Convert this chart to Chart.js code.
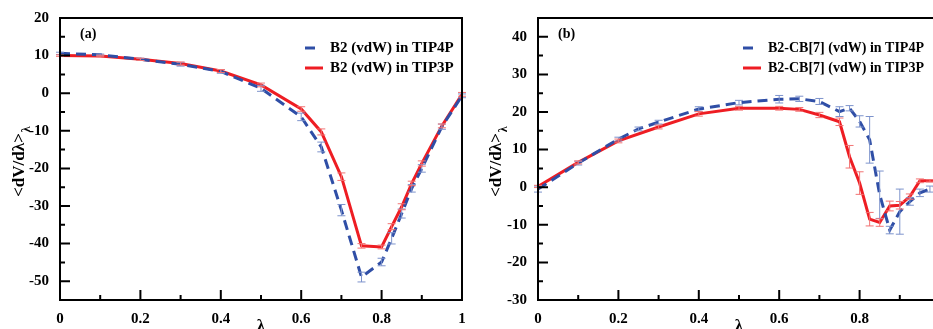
<!DOCTYPE html>
<html>
<head>
<meta charset="utf-8">
<script src="https://cdn.jsdelivr.net/npm/chart.js@4.4.1/dist/chart.umd.min.js"></script>
<style>
    html, body { margin: 0; padding: 0; background: #fff; overflow: hidden; }
    #wrap { position: relative; width: 933px; height: 329px; overflow: hidden; }
    canvas { position: absolute; top: 0; }
</style>
</head>
<body>
<div id="wrap">
    <canvas id="chartA" width="470" height="329" style="left:0"></canvas>
    <canvas id="chartB" width="478" height="329" style="left:470px"></canvas>
</div>
<script>
// panel (a): B2 (vdW)
const lamA = [0, 0.1, 0.2, 0.3, 0.4, 0.5, 0.6, 0.65, 0.7, 0.75, 0.8, 0.825, 0.85, 0.875, 0.9, 0.95, 1.0];
const a_tip4p = [10.6, 10.2, 9.0, 7.7, 5.8, 1.3, -6.3, -14.3, -31.1, -48.9, -44.9, -38.6, -32.0, -25.3, -20.0, -8.9, -0.7];
const a_tip4pErr = [0.3, 0.2, 0.3, 0.5, 0.5, 0.8, 1.0, 1.3, 1.5, 1.3, 1.0, 1.5, 1.2, 1.0, 1.0, 0.7, 0.5];
const a_tip3p = [10.0, 9.9, 9.0, 7.9, 5.9, 2.2, -4.2, -10.3, -22.2, -40.6, -40.9, -35.5, -30.2, -24.0, -18.7, -8.7, -0.3];
const a_tip3pErr = [0.2, 0.2, 0.3, 0.4, 0.4, 0.5, 0.6, 0.8, 1.0, 0.6, 0.5, 0.8, 0.8, 0.6, 0.7, 0.5, 0.5];

// panel (b): B2-CB[7] (vdW)
const lamB4 = [0, 0.1, 0.2, 0.25, 0.3, 0.4, 0.5, 0.6, 0.65, 0.7, 0.75, 0.775, 0.8, 0.825, 0.85, 0.875, 0.9, 0.925, 0.95, 0.975, 1.0];
const b_tip4p = [-0.5, 6.4, 12.8, 15.5, 17.3, 20.8, 22.5, 23.4, 23.5, 22.8, 20.1, 21.0, 17.5, 12.6, -2.0, -11.4, -6.5, -3.8, -1.5, -0.5, 0.5];
const b_tip4pErr = [0.8, 0.5, 0.5, 0.5, 0.5, 0.6, 0.6, 1.0, 0.7, 0.8, 1.3, 0.7, 1.5, 6.2, 6.3, 1.0, 6.0, 1.0, 1.0, 0.8, 0.8];
const lamB3 = [0, 0.1, 0.2, 0.3, 0.4, 0.5, 0.6, 0.65, 0.7, 0.75, 0.775, 0.8, 0.825, 0.85, 0.875, 0.9, 0.925, 0.95, 0.975, 1.0];
const b_tip3p = [0.2, 6.6, 12.3, 16.0, 19.5, 21.0, 21.0, 20.7, 19.2, 17.4, 8.1, 1.1, -8.5, -9.4, -5.0, -4.8, -2.5, 1.7, 1.7, 1.7];
const b_tip3pErr = [0.3, 0.4, 0.5, 0.5, 0.6, 0.5, 0.5, 0.5, 0.7, 1.0, 3.0, 3.0, 1.8, 1.0, 1.3, 1.0, 0.7, 0.5, 0.3, 0.3];

const FONT = '"Liberation Serif", "Times New Roman", serif';
const BLUE = '#2f4ea6';
const RED = '#ee1d23';
const BLUE_ERR = '#7d93cc';
const RED_ERR = '#f27373';

function pts(xs, ys) {
    return xs.map((x, i) => ({ x: x, y: ys[i] }));
}

// error bars through the scales
const errorBars = {
    id: 'errorBars',
    afterDatasetsDraw(chart) {
        const { ctx, scales: { x, y } } = chart;
        ctx.save();
        ctx.lineWidth = 1;
        chart.data.datasets.forEach(ds => {
            ctx.strokeStyle = ds.errColor;
            ds.data.forEach((p, i) => {
                const e = ds.errors[i];
                if (!e) return;
                const px = x.getPixelForValue(p.x);
                const y1 = y.getPixelForValue(p.y - e);
                const y2 = y.getPixelForValue(p.y + e);
                ctx.beginPath();
                ctx.moveTo(px, y1); ctx.lineTo(px, y2);
                ctx.moveTo(px - 4, y1); ctx.lineTo(px + 4, y1);
                ctx.moveTo(px - 4, y2); ctx.lineTo(px + 4, y2);
                ctx.stroke();
            });
        });
        ctx.restore();
    }
};

// frame, inward ticks, titles, legend
const decor = {
    id: 'decor',
    afterDraw(chart, args, opts) {
        const { ctx, chartArea: a, scales: { x, y } } = chart;
        ctx.save();
        ctx.strokeStyle = '#000';
        ctx.lineWidth = 2;
        ctx.strokeRect(a.left, a.top, a.right - a.left, a.bottom - a.top);
        ctx.beginPath();
        x.ticks.forEach(t => {
            const px = x.getPixelForValue(t.value);
            const len = Math.round(t.value * 10) % 2 === 0 ? 10 : 5;
            ctx.moveTo(px, a.bottom); ctx.lineTo(px, a.bottom - len);
        });
        y.ticks.forEach(t => {
            const py = y.getPixelForValue(t.value);
            const len = t.value % 10 === 0 ? 10 : 5;
            ctx.moveTo(a.left, py); ctx.lineTo(a.left + len, py);
        });
        ctx.stroke();

        ctx.fillStyle = '#000';
        // panel label
        ctx.font = 'bold 14px ' + FONT;
        ctx.textBaseline = 'middle';
        ctx.textAlign = 'left';
        ctx.fillText(opts.panel, a.left + 20, 34);

        // x title
        ctx.font = 'bold 17px ' + FONT;
        ctx.textAlign = 'center';
        ctx.textBaseline = 'top';
        ctx.fillText('λ', (a.left + a.right) / 2, 318);

        // y title with subscript
        ctx.save();
        ctx.translate(opts.yTitleX, 165);
        ctx.rotate(-Math.PI / 2);
        ctx.font = 'bold 17px ' + FONT;
        ctx.textAlign = 'center';
        ctx.textBaseline = 'middle';
        const main = '<dV/dλ>';
        const w = ctx.measureText(main).width;
        ctx.fillText(main, 0, 0);
        ctx.font = 'bold 12px ' + FONT;
        ctx.textAlign = 'left';
        ctx.fillText('λ', w / 2 + 1, 7);
        ctx.restore();

        // legend
        ctx.font = 'bold ' + opts.legendSize + 'px ' + FONT;
        ctx.textAlign = 'left';
        ctx.textBaseline = 'middle';
        chart.data.datasets.forEach((ds, i) => {
            const ly = 48 + i * 20;
            ctx.save();
            ctx.strokeStyle = ds.borderColor;
            ctx.lineWidth = 3;
            ctx.setLineDash(ds.borderDash || []);
            ctx.beginPath();
            ctx.moveTo(opts.legendX, ly);
            ctx.lineTo(opts.legendX + (ds.borderDash ? 10 : 18), ly);
            ctx.stroke();
            ctx.restore();
            ctx.fillText(ds.label, opts.legendX + 25, ly);
        });
        ctx.restore();
    }
};

function makeChart(id, datasets, yMin, yMax, yWidth, opts) {
    return new Chart(document.getElementById(id), {
        type: 'line',
        data: { datasets: datasets },
        options: {
            responsive: false,
            animation: false,
            layout: { padding: { left: 0, top: 18, right: 8, bottom: 0 } },
            plugins: { legend: { display: false }, tooltip: { enabled: false }, decor: opts },
            elements: { point: { radius: 0 }, line: { tension: 0 } },
            scales: {
                x: {
                    type: 'linear', min: 0, max: 1,
                    grid: { display: false }, border: { display: false },
                    afterFit: s => { s.height = 29; },
                    ticks: {
                        stepSize: 0.1, autoSkip: false, maxRotation: 0, padding: 2,
                        color: '#000', font: { family: FONT, size: 15, weight: 'bold' },
                        callback: v => {
                            const k = Math.round(v * 10);
                            if (k % 2 !== 0) return '';
                            return k === 0 ? '0' : k === 10 ? '1' : (k / 10).toFixed(1);
                        }
                    }
                },
                y: {
                    min: yMin, max: yMax,
                    grid: { display: false }, border: { display: false },
                    afterFit: s => { s.width = yWidth; },
                    ticks: {
                        stepSize: 5, autoSkip: false, padding: 3,
                        color: '#000', font: { family: FONT, size: 15, weight: 'bold' },
                        callback: v => (v % 10 === 0 ? String(v) : '')
                    }
                }
            }
        },
        plugins: [errorBars, decor]
    });
}

makeChart('chartA', [
    { label: 'B2 (vdW) in TIP4P', data: pts(lamA, a_tip4p), errors: a_tip4pErr, errColor: BLUE_ERR,
      borderColor: BLUE, borderWidth: 3, borderDash: [10, 6], fill: false },
    { label: 'B2 (vdW) in TIP3P', data: pts(lamA, a_tip3p), errors: a_tip3pErr, errColor: RED_ERR,
      borderColor: RED, borderWidth: 3, fill: false }
], -55, 20, 60, { panel: '(a)', yTitleX: 20, legendX: 305, legendSize: 15 });

makeChart('chartB', [
    { label: 'B2-CB[7] (vdW) in TIP4P', data: pts(lamB4, b_tip4p), errors: b_tip4pErr, errColor: BLUE_ERR,
      borderColor: BLUE, borderWidth: 3, borderDash: [10, 6], fill: false },
    { label: 'B2-CB[7] (vdW) in TIP3P', data: pts(lamB3, b_tip3p), errors: b_tip3pErr, errColor: RED_ERR,
      borderColor: RED, borderWidth: 3, fill: false }
], -30, 45, 68, { panel: '(b)', yTitleX: 27, legendX: 273, legendSize: 14 });
</script>
</body>
</html>
